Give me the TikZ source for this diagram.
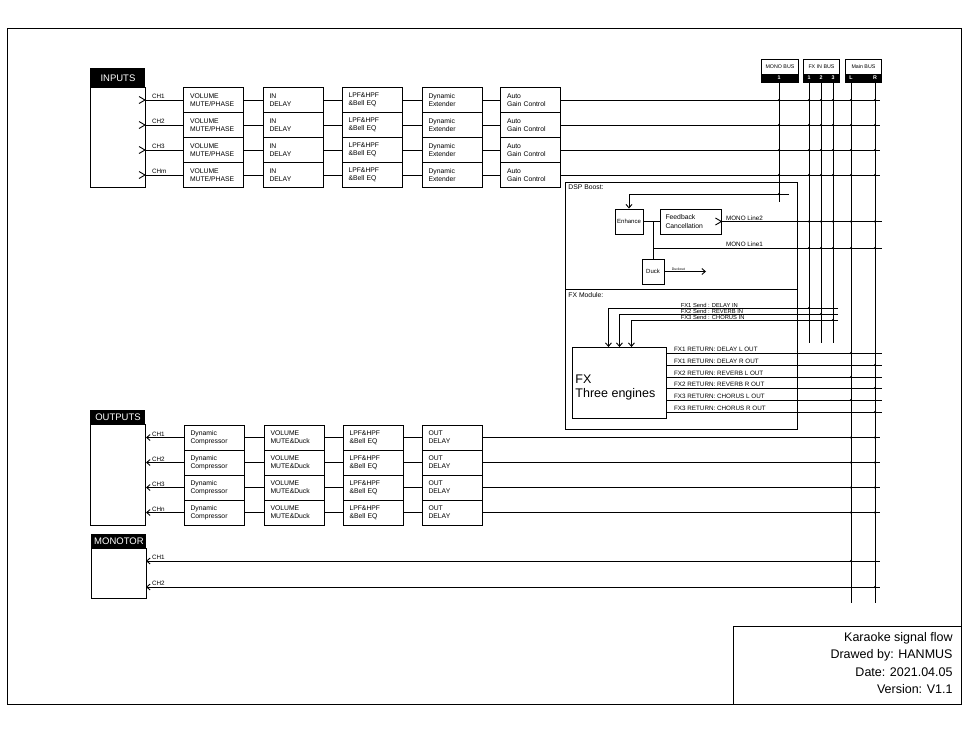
\documentclass[tikz,border=0pt]{standalone}
\usepackage{fontspec}
\setmainfont{Liberation Sans}
\usetikzlibrary{arrows.meta}
\begin{document}
\begin{tikzpicture}[x=1pt,y=-1pt,line width=0.9pt,
  pbox/.style={draw, minimum width=60pt, minimum height=25pt, text width=47pt, inner xsep=6.5pt, inner ysep=0pt, align=left, font=\fontsize{6.8}{8.2}\selectfont},
  hdr/.style={fill=black, text=white, inner sep=0pt, anchor=north west, font=\fontsize{9.5}{10}\selectfont},
  bodybox/.style={draw, inner sep=0pt, anchor=north west},
  chl/.style={font=\fontsize{6.3}{7}\selectfont, inner sep=0.6pt, anchor=south west},
  sml/.style={font=\fontsize{6.3}{7}\selectfont, inner sep=0.6pt, anchor=south west},
  jdot/.style={circle, fill=black, inner sep=0pt, minimum size=2.4pt},
  barb/.style={-{Straight Barb[length=3.5pt,width=6pt]}},
  rbarb/.style={{Straight Barb[length=3.5pt,width=6pt]}-},
  bushdr/.style={draw, inner sep=0pt, anchor=north west, minimum height=15pt, font=\fontsize{5.3}{5.5}\selectfont},
  busstrip/.style={fill=black, draw=black, inner sep=0pt, anchor=north west, minimum height=8pt},
  buslbl/.style={text=white, inner sep=0pt, font=\fontsize{5.3}{5.5}\selectfont\bfseries},
  ttl/.style={anchor=east, inner sep=0pt, font=\fontsize{12.5}{14}\selectfont}
]
\useasboundingbox (0,0) rectangle (968,732);
% outer frame and title block
\node[draw, minimum width=954pt, minimum height=676pt, anchor=north west, inner sep=0pt] (frame) at (7,28) {};
\node[draw, minimum width=228pt, minimum height=78pt, anchor=north west, inner sep=0pt] (tb) at (733,626) {};
\node[ttl] (t1) at (953,638) {Karaoke signal flow};
\node[ttl] (t2) at (953,655) {Drawed by: HANMUS};
\node[ttl] (t3) at (953,672) {Date: 2021.04.05};
\node[ttl] (t4) at (953,689) {Version: V1.1};

% bus headers
\node[bushdr, minimum width=37pt] (monoh) at (761,59) {MONO BUS};
\node[busstrip, minimum width=37pt] (monos) at (761,74) {};
\node[buslbl] (ml1) at (779,78) {1};
\node[bushdr, minimum width=36pt] (fxh) at (803,59) {FX IN BUS};
\node[busstrip, minimum width=36pt] (fxs) at (803,74) {};
\node[buslbl] (fl1) at (809,78) {1};
\node[buslbl] (fl2) at (821,78) {2};
\node[buslbl] (fl3) at (833,78) {3};
\node[bushdr, minimum width=36pt] (mainh) at (845,59) {Main BUS};
\node[busstrip, minimum width=36pt] (mains) at (845,74) {};
\node[buslbl] (ll) at (851,78) {L};
\node[buslbl] (lr) at (875,78) {R};
% bus verticals
\coordinate (bm0) at (779,82);  \coordinate (bm1) at (779,202);
\coordinate (bf10) at (809,82); \coordinate (bf11) at (809,343);
\coordinate (bf20) at (821,82); \coordinate (bf21) at (821,343);
\coordinate (bf30) at (833,82); \coordinate (bf31) at (833,343);
\coordinate (bl0) at (851,82);  \coordinate (bl1) at (851,603);
\coordinate (br0) at (875,82);  \coordinate (br1) at (875,603);
\draw (bm0) -- (bm1);
\draw (bf10) -- (bf11); \draw (bf20) -- (bf21); \draw (bf30) -- (bf31);
\draw (bl0) -- (bl1); \draw (br0) -- (br1);

% INPUTS
\node[hdr, minimum width=55pt, minimum height=19pt] (inhdr) at (90,68) {INPUTS};
\node[bodybox, minimum width=55pt, minimum height=100pt] (inbody) at (90,87) {};
\foreach \r/\y/\ch in {1/100/CH1, 2/125/CH2, 3/150/CH3, 4/175/CHm} {
  \node[pbox] (vp\r) at (213.5,\y) {VOLUME\\MUTE/PHASE};
  \node[pbox] (idl\r) at (293,\y) {IN\\DELAY};
  \node[pbox] (lpf\r) at (372,\y) {LPF\&HPF\\\&Bell EQ};
  \node[pbox] (dex\r) at (452,\y) {Dynamic\\Extender};
  \node[pbox] (agc\r) at (530.5,\y) {Auto\\Gain Control};
  \coordinate (ip\r) at (145,\y);
  \coordinate (ie\r) at (880,\y);
  \draw (ip\r) -- (vp\r.west);
  \draw ([xshift=-6pt,yshift=3.5pt]ip\r) -- (ip\r) -- ([xshift=-6pt,yshift=-3.5pt]ip\r);
  \node[chl] (icl\r) at (151,\y) {\ch};
  \draw (vp\r.east) -- (idl\r.west);
  \draw (idl\r.east) -- (lpf\r.west);
  \draw (lpf\r.east) -- (dex\r.west);
  \draw (dex\r.east) -- (agc\r.west);
  \draw (agc\r.east) -- (ie\r);
  \foreach \x in {779,809,821,833,851,875} \node[jdot] at (\x,\y) {};
}

% DSP Boost
\node[draw, minimum width=232pt, minimum height=107pt, anchor=north west, inner sep=0pt] (dsp) at (565,182) {};
\node[draw, minimum width=232pt, minimum height=140pt, anchor=north west, inner sep=0pt] (fxm) at (565,289) {};
\node[font=\fontsize{6.8}{7}\selectfont, anchor=north west, inner sep=0pt] (dspl) at (568,184) {DSP Boost:};
\node[font=\fontsize{6.8}{7}\selectfont, anchor=north west, inner sep=0pt] (fxml) at (568,292) {FX Module:};
\node[draw, minimum width=28pt, minimum height=25pt, inner sep=0pt, font=\fontsize{6}{7}\selectfont] (enh) at (629,221.5) {Enhance};
\node[draw, minimum width=61pt, minimum height=25pt, text width=50pt, inner xsep=5.5pt, inner ysep=0pt, align=left, font=\fontsize{6.8}{8.5}\selectfont] (fbc) at (690.5,221.5) {Feedback\\Cancellation};
\node[draw, minimum width=22pt, minimum height=25pt, inner sep=0pt, font=\fontsize{6}{7}\selectfont] (duck) at (653,271.5) {Duck};
\coordinate (mf) at (789,194);
\draw[barb] (mf) -| (enh.north);
\node[jdot] at (779,194) {};
\draw (enh.east) -- (fbc.west);
\coordinate (j1) at (653,221.5);
\coordinate (j2) at (653,248);
\draw (j1) -- (duck.north);
\coordinate (m2e) at (882,221.5);
\coordinate (m1e) at (882,248);
\draw (fbc.east) -- (m2e);
\draw ([xshift=-6pt,yshift=3.5pt]fbc.east) -- (fbc.east) -- ([xshift=-6pt,yshift=-3.5pt]fbc.east);
\draw (j2) -- (m1e);
\node[sml] (m2l) at (725,221.5) {MONO Line2};
\node[sml] (m1l) at (725,248) {MONO Line1};
\foreach \y in {221.5,248} \foreach \x in {809,821,833,851,875} \node[jdot] at (\x,\y) {};
\coordinate (dko) at (706,271.5);
\draw[barb] (duck.east) -- (dko);
\node[font=\fontsize{3.5}{4}\selectfont, anchor=south west, inner sep=0.5pt] (dkl) at (671,271.5) {Duckout};

% FX module
\node[draw, minimum width=94pt, minimum height=71pt, anchor=north west, inner sep=0pt] (fx) at (572,347) {};
\node[anchor=west, align=left, inner sep=0pt, font=\fontsize{12.5}{14}\selectfont] (fxt) at (575,387) {FX\\Three engines};
\coordinate (s1e) at (838,308);
\coordinate (s2e) at (838,314);
\coordinate (s3e) at (838,320);
\draw[barb] (s1e) -| ([xshift=-11pt]fx.north);
\draw[barb] (s2e) -| ([xshift=0pt]fx.north);
\draw[barb] (s3e) -| ([xshift=12pt]fx.north);
\node[font=\fontsize{5.8}{6}\selectfont, anchor=south west, inner sep=0.3pt] (s1l) at (680,308) {FX1 Send : DELAY IN};
\node[font=\fontsize{5.8}{6}\selectfont, anchor=south west, inner sep=0.3pt] (s2l) at (680,314) {FX2 Send : REVERB IN};
\node[font=\fontsize{5.8}{6}\selectfont, anchor=south west, inner sep=0.3pt] (s3l) at (680,320) {FX3 Send : CHORUS IN};
\node[jdot] at (809,308) {};
\node[jdot] at (821,314) {};
\node[jdot] at (833,320) {};
\foreach \y/\t/\bx in {353/FX1 RETURN: DELAY L OUT/851, 365/FX1 RETURN: DELAY R OUT/875, 377/FX2 RETURN: REVERB L OUT/851, 388/FX2 RETURN: REVERB R OUT/875, 400/FX3 RETURN: CHORUS L OUT/851, 412/FX3 RETURN: CHORUS R OUT/875} {
  \coordinate (rs\y) at (666,\y);
  \coordinate (re\y) at (882,\y);
  \draw (rs\y) -- (re\y);
  \node[sml] at (673,\y) {\t};
  \node[jdot] at (\bx,\y) {};
}

% OUTPUTS
\node[hdr, minimum width=55pt, minimum height=14pt] (outhdr) at (90,410) {OUTPUTS};
\node[bodybox, minimum width=55pt, minimum height=101pt] (outbody) at (90,424) {};
\foreach \r/\y/\ch in {1/437.5/CH1, 2/462.5/CH2, 3/487.5/CH3, 4/512.5/CHn} {
  \node[pbox] (dc\r) at (214,\y) {Dynamic\\Compressor};
  \node[pbox] (vm\r) at (294,\y) {VOLUME\\MUTE\&Duck};
  \node[pbox] (lpo\r) at (373,\y) {LPF\&HPF\\\&Bell EQ};
  \node[pbox] (od\r) at (452,\y) {OUT\\DELAY};
  \coordinate (op\r) at (146,\y);
  \coordinate (oe\r) at (880,\y);
  \draw[rbarb] (op\r) -- (dc\r.west);
  \node[chl] (ocl\r) at (151,\y) {\ch};
  \draw (dc\r.east) -- (vm\r.west);
  \draw (vm\r.east) -- (lpo\r.west);
  \draw (lpo\r.east) -- (od\r.west);
  \draw (od\r.east) -- (oe\r);
  \node[jdot] at (851,\y) {};
  \node[jdot] at (875,\y) {};
}

% MONOTOR
\node[hdr, minimum width=55pt, minimum height=14pt] (monhdr) at (91,534) {MONOTOR};
\node[bodybox, minimum width=55pt, minimum height=50pt] (monbody) at (91,548) {};
\foreach \r/\y/\bx in {1/561/851, 2/587/875} {
  \coordinate (mp\r) at (146,\y);
  \coordinate (me\r) at (880,\y);
  \draw[rbarb] (mp\r) -- (me\r);
  \node[chl] (mcl\r) at (151,\y) {CH\r};
  \node[jdot] at (\bx,\y) {};
}
\end{tikzpicture}
\end{document}
